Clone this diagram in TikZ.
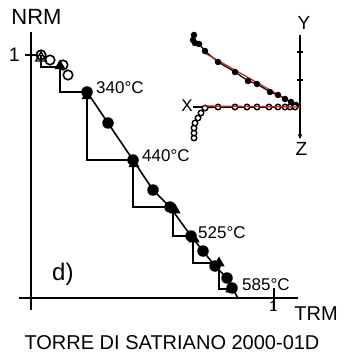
\documentclass[tikz,border=0pt]{standalone}
\usepackage{fontspec}
\setmainfont{Liberation Sans}
\usetikzlibrary{shapes.geometric,arrows.meta}
\definecolor{fitred}{RGB}{195,35,35}
\begin{document}
\begin{tikzpicture}[x=1pt,y=-1pt,
  axis/.style={line width=2.1pt},
  stepline/.style={line width=1.6pt},
  fitline/.style={line width=1.6pt},
  fc/.style={circle,fill=black,inner sep=0pt,minimum size=11.5pt},
  oc/.style={circle,draw=black,line width=1.6pt,inner sep=0pt,minimum size=9.5pt},
  ftri/.style={regular polygon,regular polygon sides=3,fill=black,inner sep=0pt,minimum size=13pt},
  otri/.style={regular polygon,regular polygon sides=3,draw=black,line width=1.4pt,inner sep=0pt,minimum size=12pt},
  zf/.style={circle,fill=black,inner sep=0pt,minimum size=6.5pt},
  zo/.style={circle,draw=black,fill=white,line width=1.4pt,inner sep=0pt,minimum size=5.5pt},
  lab/.style={inner sep=0pt,anchor=base west,font=\fontsize{17}{17}\selectfont},
  zlab/.style={inner sep=0pt,font=\fontsize{19}{19}\selectfont},
  zline/.style={line width=1.2pt},
  zred/.style={line width=1.3pt,draw=fitred},
]
\useasboundingbox (0,0) rectangle (343,355);

% ---------- Arai plot axes ----------
\coordinate (yaxT) at (31,32);
\coordinate (yaxB) at (31,310);
\coordinate (xaxL) at (19,298);
\coordinate (xaxR) at (298,298);
\draw[axis] (yaxT) -- (yaxB);
\draw[axis] (xaxL) -- (xaxR);
\coordinate (ytkL) at (25,55);
\coordinate (ytkR) at (38,55);
\draw[stepline] (ytkL) -- (ytkR);
\coordinate (xtkT) at (274,288);
\coordinate (xtkB) at (274,311);
\draw[stepline] (xtkT) -- (xtkB);

\node[inner sep=0pt,anchor=base,font=\fontsize{22}{22}\selectfont] (nrm) at (36.5,25) {NRM};
\node[inner sep=0pt,anchor=base east,font=\fontsize{19.5}{19.5}\selectfont] (one) at (20,62) {1};
\node[inner sep=0pt,anchor=base west,font=\fontsize{15}{15}\selectfont] (onex) at (269,311) {1};
\node[inner sep=0pt,anchor=base,font=\fontsize{20}{20}\selectfont] (trm) at (316,320) {TRM};
\node[inner sep=0pt,anchor=base west,font=\fontsize{24}{24}\selectfont] (dlab) at (52,280) {d)};
\node[inner sep=0pt,anchor=base,font=\fontsize{20}{20}\selectfont] (title) at (172,349) {TORRE DI SATRIANO 2000-01D};

% ---------- step (pTRM check) lines ----------
\coordinate (a1) at (41,55);
\coordinate (c1) at (41,67);
\coordinate (tA) at (60,67);
\coordinate (c2) at (60,92);
\coordinate (p340) at (87,92);
\coordinate (c3) at (87,160);
\coordinate (p440) at (133,160);
\coordinate (c4) at (133,207);
\coordinate (q3) at (170,207);
\coordinate (s5) at (173,207);
\coordinate (c5) at (173,236);
\coordinate (p525) at (191,236);
\coordinate (s6) at (193,236);
\coordinate (c6) at (193,263);
\coordinate (t6) at (216,263);
\coordinate (s7) at (219,263);
\coordinate (c7) at (219,289);
\coordinate (t7) at (231,289);
\draw[stepline] (a1) -- (c1) -- (tA);
\draw[stepline] (tA) -- (c2) -- (p340);
\draw[stepline] (p340) -- (c3) -- (p440);
\draw[stepline] (p440) -- (c4) -- (q3);
\draw[stepline] (s5) -- (c5) -- (p525);
\draw[stepline] (s6) -- (c6) -- (t6);
\draw[stepline] (s7) -- (c7) -- (t7);

% ---------- fit line through points ----------
\coordinate (q1) at (108,123);
\coordinate (q2) at (153,190);
\coordinate (q4) at (203,251);
\coordinate (q5) at (215,266);
\coordinate (q6) at (227,278);
\coordinate (p585) at (232,288);
\coordinate (fend) at (238,298);
\draw[fitline] (p340) -- (q1) -- (p440) -- (q2) -- (q3) -- (p525) -- (q4) -- (q5) -- (q6) -- (p585) -- (fend);

% ---------- triangles (pTRM checks) ----------
\node[otri] (tr0) at (41,58) {};
\node[ftri] (tr1) at (60,66) {};
\node[ftri] (tr2) at (87,96) {};
\node[ftri] (tr3) at (134,164) {};
\node[ftri] (tr4) at (175,210) {};
\node[ftri] (tr5) at (194,239) {};
\node[ftri] (tr6) at (219,263) {};
\node[ftri] (tr7) at (231,289) {};

% ---------- open circles ----------
\node[oc] (o1) at (a1) {};
\node[oc] (o2) at (50,60) {};
\node[oc] (o3) at (63,65) {};
\node[oc] (o4) at (68,75) {};

% ---------- filled circles ----------
\node[fc] (f1) at (p340) {};
\node[fc] (f2) at (q1) {};
\node[fc] (f3) at (p440) {};
\node[fc] (f4) at (q2) {};
\node[fc] (f5) at (q3) {};
\node[fc] (f6) at (p525) {};
\node[fc] (f7) at (q4) {};
\node[fc] (f8) at (q5) {};
\node[fc] (f9) at (q6) {};
\node[fc] (f10) at (p585) {};

\node[lab] (l340) at (96,94) {340°C};
\node[lab] (l440) at (142,161) {440°C};
\node[lab] (l525) at (198,238) {525°C};
\node[lab] (l585) at (242,290) {585°C};

% ---------- Zijderveld plot ----------
\coordinate (zo) at (300,107);
\coordinate (zT) at (300,35);
\coordinate (zB) at (300,139);
\coordinate (xL) at (193,107);
\draw[line width=1.7pt,-{Stealth[length=5pt,width=4.5pt]}] (zT) -- (zB);
\draw[zline] (xL) -- (zo);
\coordinate (tk1L) at (297,52);
\coordinate (tk1R) at (303,52);
\coordinate (tk2L) at (297,80);
\coordinate (tk2R) at (303,80);
\draw[line width=1.4pt] (tk1L) -- (tk1R);
\draw[line width=1.4pt] (tk2L) -- (tk2R);
\node[zlab] (ylab) at (304,23) {Y};
\node[zlab] (zlab) at (301.5,149) {Z};
\node[zlab,font=\fontsize{17}{17}\selectfont] (xlab) at (187,106) {X};

% horizontal projection
\coordinate (h1) at (194,35);
\coordinate (h2) at (193,40);
\coordinate (h3) at (195,43);
\coordinate (h4) at (199,44);
\coordinate (h5) at (205,51);
\coordinate (h6) at (218,62);
\coordinate (h7) at (235,72);
\coordinate (h8) at (248,81);
\coordinate (h9) at (257,84);
\coordinate (h10) at (270,92);
\coordinate (h11) at (278,95);
\coordinate (h12) at (285,99);
\coordinate (h13) at (291,102);
\coordinate (h14) at (296,105);
\draw[zline] (h1) -- (h2) -- (h3) -- (h4) -- (h5) -- (h6) -- (h7) -- (h8) -- (h9) -- (h10) -- (h11) -- (h12) -- (h13) -- (h14) -- (zo);

% vertical projection
\coordinate (v1) at (194,138);
\coordinate (v2) at (194,133);
\coordinate (v3) at (194,128);
\coordinate (v4) at (195,123);
\coordinate (v5) at (198,118);
\coordinate (v6) at (201,113);
\coordinate (v7) at (205,108);
\coordinate (v8) at (218,107);
\coordinate (v9) at (235,107);
\coordinate (v10) at (247,107);
\coordinate (v11) at (257,107);
\coordinate (v12) at (269,107);
\coordinate (v13) at (278,107);
\coordinate (v14) at (285,107);
\coordinate (v15) at (290,107);
\coordinate (v16) at (295,107);
\draw[zline] (v1) -- (v2) -- (v3) -- (v4) -- (v5) -- (v6) -- (v7) -- (v8);

% red fit lines
\coordinate (rh) at (203,52);
\coordinate (rv) at (203,106);
\draw[zred] (rh) -- (zo);

\foreach \i in {1,...,14} { \node[zf] (hn\i) at (h\i) {}; }
\foreach \i in {1,...,16} { \node[zo] (vn\i) at (v\i) {}; }
\draw[zred] (rv) -- (zo);

\end{tikzpicture}
\end{document}
